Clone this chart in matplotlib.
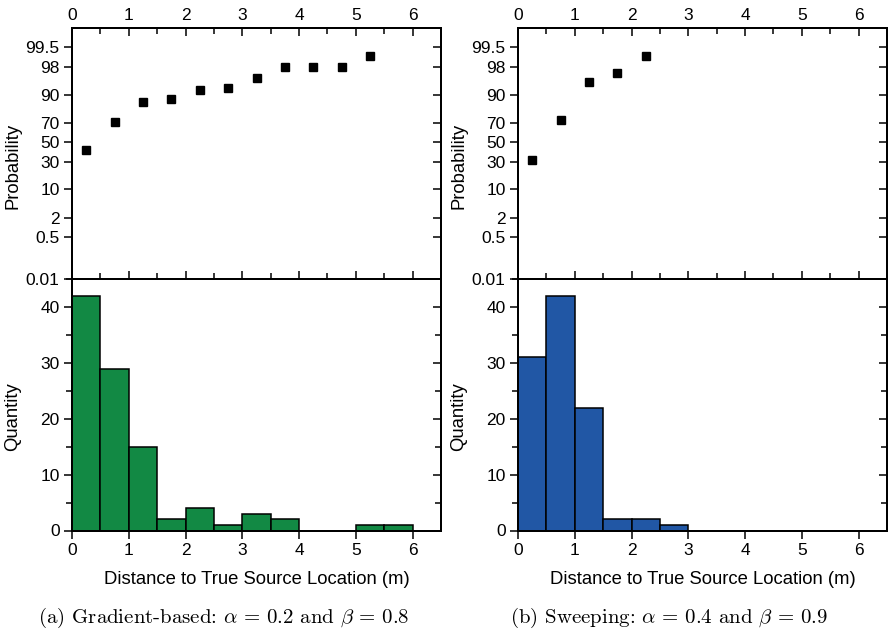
import math
import numpy as np
import matplotlib
matplotlib.use("Agg")
import matplotlib.pyplot as plt
from matplotlib.ticker import FixedLocator, FixedFormatter, MultipleLocator, NullFormatter

# ---- data -------------------------------------------------------------
bin_edges_left = [0.0, 0.5, 1.0, 1.5, 2.0, 2.5, 3.0, 3.5, 4.0, 4.5, 5.0, 5.5]
counts_grad = [42, 29, 15, 2, 4, 1, 3, 2, 0, 0, 1, 1]
counts_sweep = [31, 42, 22, 2, 2, 1, 0, 0, 0, 0, 0, 0]

bin_centers_grad = [0.25, 0.75, 1.25, 1.75, 2.25, 2.75, 3.25, 3.75, 4.25, 4.75, 5.25]
cum_prob_grad = [42, 71, 86, 88, 92, 93, 96, 98, 98, 98, 99]

bin_centers_sweep = [0.25, 0.75, 1.25, 1.75, 2.25]
cum_prob_sweep = [31, 73, 95, 97, 99]

prob_ticks = [0.01, 0.5, 2, 10, 30, 50, 70, 90, 98, 99.5]
prob_tick_labels = ["0.01", "0.5", "2", "10", "30", "50", "70", "90", "98", "99.5"]
x_ticks = [0, 1, 2, 3, 4, 5, 6]
qty_ticks = [0, 10, 20, 30, 40]

captions = [r"(a) Gradient-based: $\alpha\,=\,0.2$ and $\beta\,=\,0.8$",
            r"(b) Sweeping: $\alpha\,=\,0.4$ and $\beta\,=\,0.9$"]
bar_colors = ["#128944", "#2157a5"]

# ---- normal probability scale ----------------------------------------
_A = [-3.969683028665376e+01, 2.209460984245205e+02, -2.759285104469687e+02,
      1.383577518672690e+02, -3.066479806614716e+01, 2.506628277459239e+00]
_B = [-5.447609879822406e+01, 1.615858368580409e+02, -1.556989798598866e+02,
      6.680131188771972e+01, -1.328068155288572e+01]
_C = [-7.784894002430293e-03, -3.223964580411365e-01, -2.400758277161838e+00,
      -2.549732539343734e+00, 4.374664141464968e+00, 2.938163982698783e+00]
_D = [7.784695709041462e-03, 3.224671290700398e-01, 2.445134137142996e+00,
      3.754408661907416e+00]


def _ppf_scalar(p):
    plow = 0.02425
    if p < plow:
        q = math.sqrt(-2 * math.log(p))
        return (((((_C[0]*q+_C[1])*q+_C[2])*q+_C[3])*q+_C[4])*q+_C[5]) / \
               ((((_D[0]*q+_D[1])*q+_D[2])*q+_D[3])*q+1)
    if p > 1 - plow:
        q = math.sqrt(-2 * math.log(1 - p))
        return -(((((_C[0]*q+_C[1])*q+_C[2])*q+_C[3])*q+_C[4])*q+_C[5]) / \
                ((((_D[0]*q+_D[1])*q+_D[2])*q+_D[3])*q+1)
    q = p - 0.5
    r = q * q
    return (((((_A[0]*r+_A[1])*r+_A[2])*r+_A[3])*r+_A[4])*r+_A[5])*q / \
           (((((_B[0]*r+_B[1])*r+_B[2])*r+_B[3])*r+_B[4])*r+1)


_ppf_vec = np.vectorize(_ppf_scalar, otypes=[float])
_erf_vec = np.vectorize(math.erf, otypes=[float])


def pct_to_z(pct):
    p = np.clip(np.asarray(pct, float) / 100.0, 1e-12, 1 - 1e-12)
    return _ppf_vec(p)


def z_to_pct(z):
    return 50.0 * (1.0 + _erf_vec(np.asarray(z, float) / math.sqrt(2.0)))


def set_prob_axis(ax):
    ax.set_yscale("function", functions=(pct_to_z, z_to_pct))
    ax.set_ylim(0.01, 99.9)
    ax.yaxis.set_major_locator(FixedLocator(prob_ticks))
    ax.yaxis.set_minor_locator(FixedLocator([]))


# ---- figure -----------------------------------------------------------
plt.rcParams["font.family"] = ["Liberation Sans", "DejaVu Sans"]
plt.rcParams["mathtext.fontset"] = "cm"

W, H = 888, 637
fig = plt.figure(figsize=(W / 100, H / 100), dpi=100)

spine_lw = 1.4
tick_lw = 1.1
tick_fs = 12.5
label_fs = 13.3

panel_lefts = [72, 518]
panel_width = 369
top_y0, mid_y, bot_y1 = 28.3, 279.3, 530.5


def fig_rect(x0, y_top, w, h):
    return [x0 / W, 1 - (y_top + h) / H, w / W, h / H]


datasets = [
    (bin_centers_grad, cum_prob_grad, counts_grad),
    (bin_centers_sweep, cum_prob_sweep, counts_sweep),
]

for i, (xc, probs, counts) in enumerate(datasets):
    x0 = panel_lefts[i]
    ax_p = fig.add_axes(fig_rect(x0, top_y0, panel_width, mid_y - top_y0))
    ax_h = fig.add_axes(fig_rect(x0, mid_y, panel_width, bot_y1 - mid_y))

    # cumulative probability panel
    set_prob_axis(ax_p)
    ax_p.plot(xc, probs, linestyle="none", marker="s", markersize=5.5,
              color="black", clip_on=False, zorder=5)
    ax_p.set_xlim(0, 6.5)
    ax_p.yaxis.set_major_formatter(FixedFormatter(prob_tick_labels))
    ax_p.xaxis.set_major_locator(FixedLocator(x_ticks))
    ax_p.xaxis.set_minor_locator(MultipleLocator(0.5))
    ax_p.tick_params(axis="x", which="both", direction="in", top=True,
                     bottom=True, labeltop=True, labelbottom=False, pad=4,
                     width=tick_lw, labelsize=tick_fs)
    ax_p.tick_params(axis="x", which="major", length=6)
    ax_p.tick_params(axis="x", which="minor", length=4)
    ax_p.tick_params(axis="y", which="major", direction="out", left=True,
                     right=False, length=6, pad=3, width=tick_lw,
                     labelsize=tick_fs)
    ax_p.set_ylabel("Probability", fontsize=label_fs)
    ax_p.yaxis.set_label_coords(-0.137, 0.452)
    for s in ax_p.spines.values():
        s.set_linewidth(spine_lw)

    # inward ticks along the right edge of the probability panel
    ax_pr = ax_p.twinx()
    set_prob_axis(ax_pr)
    ax_pr.yaxis.set_major_formatter(NullFormatter())
    ax_pr.tick_params(axis="y", direction="in", length=6, width=tick_lw,
                      labelright=False)
    for s in ax_pr.spines.values():
        s.set_linewidth(spine_lw)

    # histogram panel
    ax_h.bar(bin_edges_left, counts, width=0.5, align="edge",
             color=bar_colors[i], edgecolor="black", linewidth=1.1)
    ax_h.set_xlim(0, 6.5)
    ax_h.set_ylim(0, 45)
    ax_h.xaxis.set_major_locator(FixedLocator(x_ticks))
    ax_h.yaxis.set_major_locator(FixedLocator(qty_ticks))
    ax_h.yaxis.set_minor_locator(MultipleLocator(5))
    ax_h.tick_params(axis="x", which="major", direction="out", length=6,
                     top=False, pad=3, width=tick_lw, labelsize=tick_fs)
    ax_h.tick_params(axis="x", which="minor", bottom=False, top=False)
    ax_h.tick_params(axis="y", which="major", direction="out", length=6,
                     pad=3, width=tick_lw, labelsize=tick_fs)
    ax_h.tick_params(axis="y", which="minor", direction="out", length=4,
                     width=tick_lw)
    ax_h.set_ylabel("Quantity", fontsize=label_fs)
    ax_h.yaxis.set_label_coords(-0.137, 0.452)
    ax_h.set_xlabel("Distance to True Source Location (m)", fontsize=label_fs,
                    labelpad=9)
    for s in ax_h.spines.values():
        s.set_linewidth(spine_lw)

    # inward ticks along the right edge of the histogram
    ax_hr = ax_h.twinx()
    ax_hr.set_ylim(0, 45)
    ax_hr.yaxis.set_major_locator(FixedLocator(qty_ticks))
    ax_hr.yaxis.set_minor_locator(MultipleLocator(5))
    ax_hr.yaxis.set_major_formatter(NullFormatter())
    ax_hr.tick_params(axis="y", which="major", direction="in", length=6,
                      width=tick_lw, labelright=False)
    ax_hr.tick_params(axis="y", which="minor", direction="in", length=4,
                      width=tick_lw, labelright=False)
    for s in ax_hr.spines.values():
        s.set_linewidth(spine_lw)

# subfigure captions
cap_x = [224 / W, 669 / W]
for i, cap in enumerate(captions):
    fig.text(cap_x[i], 1 - 618 / H, cap, ha="center", va="center",
             fontsize=15, family="cmr10")

fig.savefig("out.png", dpi=100)
